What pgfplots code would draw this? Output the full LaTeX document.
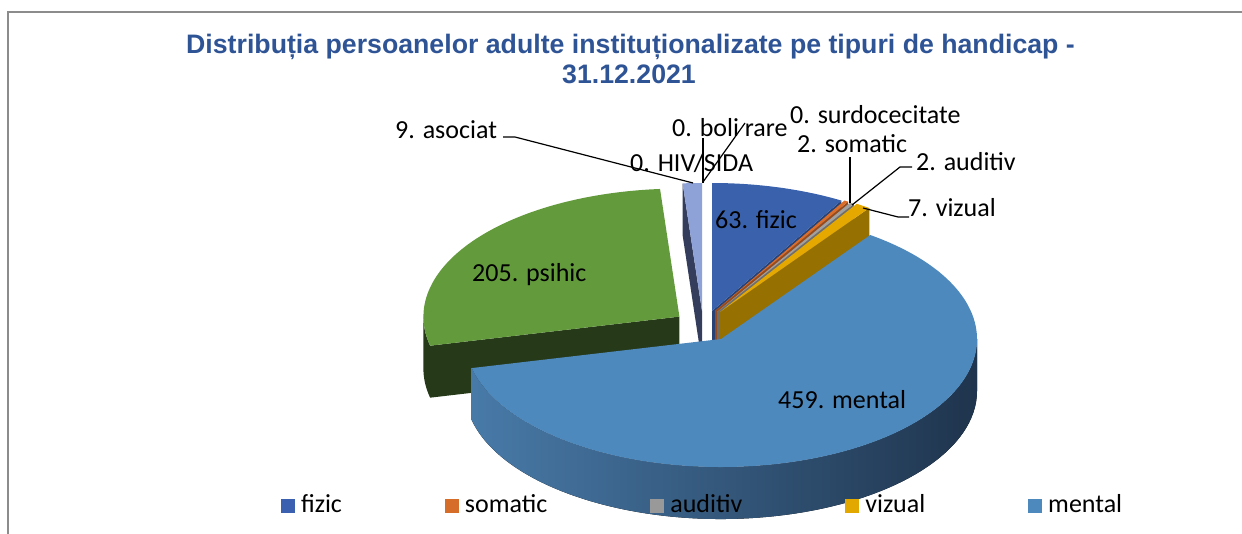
\documentclass[border=0pt]{standalone}
\usepackage{fontspec}
\setmainfont{Carlito}
\newfontfamily\titlefont{Liberation Sans}
\usepackage{pgfplots}
\usepackage{pgfplotstable}
\pgfplotsset{compat=1.18}

\definecolor{titleblue}{RGB}{47,84,150}
\definecolor{framegray}{RGB}{140,140,140}
\definecolor{fizicT}{RGB}{58,98,172}
\definecolor{fizicS}{RGB}{40,66,118}
\definecolor{somaticT}{RGB}{217,109,41}
\definecolor{somaticS}{RGB}{150,75,28}
\definecolor{auditivT}{RGB}{160,160,160}
\definecolor{auditivS}{RGB}{110,110,110}
\definecolor{vizualT}{RGB}{228,168,0}
\definecolor{vizualS}{RGB}{150,112,0}
\definecolor{mentalT}{RGB}{78,137,190}
\definecolor{mentalSL}{RGB}{72,122,168}
\definecolor{mentalSM}{RGB}{48,82,117}
\definecolor{mentalSR}{RGB}{31,52,77}
\definecolor{psihicT}{RGB}{99,154,60}
\definecolor{psihicS}{RGB}{38,58,25}
\definecolor{asociatT}{RGB}{142,162,216}
\definecolor{asociatS}{RGB}{52,62,92}
\definecolor{legfizic}{RGB}{58,96,175}
\definecolor{legsomatic}{RGB}{214,110,42}
\definecolor{legauditiv}{RGB}{153,153,153}
\definecolor{legvizual}{RGB}{227,168,0}
\definecolor{legmental}{RGB}{78,137,190}

% values of the chart; apx/apy = position of the (exploded) slice apex, in pixels
\pgfplotstableread{
name value apx apy
fizic 63 712 311
somatic 2 715 311
auditiv 2 717 312
vizual 7 720 312
mental 459 721 339
psihic 205 679.4 316.6
asociat 9 702 311
HIV/SIDA 0 703 311
boli_rare 0 703 311
surdocecitate 0 703 311
}\piedata

\def\RX{256}
\def\RY{128}
\def\D{52}

\newcommand\phiS[1]{\csname PS#1\endcsname}
\newcommand\phiE[1]{\csname PE#1\endcsname}
\newcommand\apx[1]{\csname AX#1\endcsname}
\newcommand\apy[1]{\csname AY#1\endcsname}
\newcommand\sx[1]{\csname SX#1\endcsname}
\newcommand\sy[1]{\csname SY#1\endcsname}
\newcommand\ex[1]{\csname EX#1\endcsname}
\newcommand\ey[1]{\csname EY#1\endcsname}

% top face of slice #1
\newcommand\topface[2]{%
  \fill[#2] (axis cs:\apx{#1},\apy{#1}) -- (axis cs:\sx{#1},\sy{#1})
    arc[start angle={90-\phiS{#1}}, end angle={90-\phiE{#1}}, x radius=\RX bp, y radius=\RY bp] -- cycle;}
% outer curved side from angle #3 to #4, starting at point (#1,#2)
\newcommand\outerside[5]{%
  \fill[#5] (axis cs:#1,#2)
    arc[start angle={90-(#3)}, end angle={90-(#4)}, x radius=\RX bp, y radius=\RY bp]
    -- ++(0bp,-\D bp)
    arc[start angle={90-(#4)}, end angle={90-(#3)}, x radius=\RX bp, y radius=\RY bp] -- cycle;}
% radial cut face from apex (#1,#2) to rim (#3,#4)
\newcommand\radface[5]{%
  \fill[#5] (axis cs:#1,#2) -- (axis cs:#3,#4) -- ++(0bp,-\D bp) -- ([yshift=-\D bp]axis cs:#1,#2) -- cycle;}

\newcommand\lbl{\fontsize{26bp}{30bp}\selectfont}

\begin{document}
\begin{tikzpicture}
\xdef\total{0}
\foreach \i in {0,...,9}{%
  \pgfplotstablegetelem{\i}{value}\of\piedata
  \pgfmathsetmacro\tmpT{\total+\pgfplotsretval}%
  \xdef\total{\tmpT}}
\xdef\cum{0}
\foreach \i in {0,...,9}{%
  \pgfplotstablegetelem{\i}{apx}\of\piedata
  \expandafter\xdef\csname AX\i\endcsname{\pgfplotsretval}%
  \pgfplotstablegetelem{\i}{apy}\of\piedata
  \expandafter\xdef\csname AY\i\endcsname{\pgfplotsretval}%
  \pgfplotstablegetelem{\i}{value}\of\piedata
  \pgfmathsetmacro\tmpA{\cum/\total*360}%
  \pgfmathsetmacro\tmpC{\cum+\pgfplotsretval}%
  \xdef\cum{\tmpC}%
  \pgfmathsetmacro\tmpB{\cum/\total*360}%
  \expandafter\xdef\csname PS\i\endcsname{\tmpA}%
  \expandafter\xdef\csname PE\i\endcsname{\tmpB}%
  \pgfmathsetmacro\tmpX{\apx{\i}+\RX*sin(\tmpA)}%
  \pgfmathsetmacro\tmpY{\apy{\i}-\RY*cos(\tmpA)}%
  \expandafter\xdef\csname SX\i\endcsname{\tmpX}%
  \expandafter\xdef\csname SY\i\endcsname{\tmpY}%
  \pgfmathsetmacro\tmpX{\apx{\i}+\RX*sin(\tmpB)}%
  \pgfmathsetmacro\tmpY{\apy{\i}-\RY*cos(\tmpB)}%
  \expandafter\xdef\csname EX\i\endcsname{\tmpX}%
  \expandafter\xdef\csname EY\i\endcsname{\tmpY}%
}
\pgfmathsetmacro\tmpM{\apx{4}+\RX}\xdef\mentalRX{\tmpM}

\begin{axis}[
  scale only axis, width=1242bp, height=534bp,
  xmin=0, xmax=1242, ymin=0, ymax=534, y dir=reverse,
  axis lines=none,
  legend columns=5,
  legend cell align=left,
  legend image code/.code={\fill[#1] (0bp,-8.8bp) rectangle (14bp,5.7bp); \path (20bp,0bp);},
  legend style={at={(axis cs:281,514)}, anchor=south west, draw=none, fill=none,
    inner sep=0pt, outer sep=0pt, font=\lbl, nodes={inner sep=0pt},
    /tikz/every even column/.append style={column sep=103bp}},
]
\path (axis cs:0,0) rectangle (axis cs:1242,534);
% frame (left and top edges)
\draw[framegray, line width=1.3bp] (axis cs:8,534) -- (axis cs:8,12) -- (axis cs:1242,12);

% psihic (back left)
\radface{\apx{5}}{\apy{5}}{\sx{5}}{\sy{5}}{psihicS}
\outerside{\sx{5}}{\sy{5}}{\phiS{5}}{270}{psihicS}
\topface{5}{psihicT}
% asociat
\radface{\apx{6}}{\apy{6}}{\sx{6}}{\sy{6}}{asociatS}
\topface{6}{asociatT}
% fizic
\radface{\apx{0}}{\apy{0}}{\ex{0}}{\ey{0}}{fizicS}
\topface{0}{fizicT}
% somatic
\radface{\apx{1}}{\apy{1}}{\ex{1}}{\ey{1}}{somaticS}
\topface{1}{somaticT}
% auditiv
\radface{\apx{2}}{\apy{2}}{\ex{2}}{\ey{2}}{auditivS}
\topface{2}{auditivT}
% vizual
\radface{\apx{3}}{\apy{3}}{\ex{3}}{\ey{3}}{vizualS}
\topface{3}{vizualT}
% mental (front)
\outerside{\mentalRX}{\apy{4}}{90}{\phiE{4}}{left color=mentalSL, middle color=mentalSM, right color=mentalSR}
\topface{4}{mentalT}

% title
\node[anchor=base, inner sep=0pt, text=titleblue, font=\titlefont\bfseries\fontsize{26.7bp}{30bp}\selectfont]
  at (axis cs:630.5,54) {Distribuția persoanelor adulte instituționalizate pe tipuri de handicap -};
\node[anchor=base, inner sep=0pt, text=titleblue, font=\titlefont\bfseries\fontsize{26.7bp}{30bp}\selectfont]
  at (axis cs:629,84) {31.12.2021};

% leader lines
\draw[black, line width=1.2bp] (axis cs:503,137) -- (axis cs:515,137) -- (axis cs:693,183);
\draw[black, line width=1.2bp] (axis cs:703,138) -- (axis cs:703,183);
\draw[black, line width=1.2bp] (axis cs:703,182) -- (axis cs:745,123);
\draw[black, line width=1.2bp] (axis cs:850,157) -- (axis cs:850,203);
\draw[black, line width=1.2bp] (axis cs:912,167) -- (axis cs:900,167) -- (axis cs:852,205);
\draw[black, line width=1.2bp] (axis cs:909,217) -- (axis cs:898,217) -- (axis cs:863,208);

% data labels
\node[anchor=base west, inner sep=0pt, font=\lbl] at (axis cs:395,138) {9. asociat};
\node[anchor=base west, inner sep=0pt, font=\lbl] at (axis cs:630,171) {0. HIV/SIDA};
\node[anchor=base west, inner sep=0pt, font=\lbl] at (axis cs:672,136) {0. boli rare};
\node[anchor=base west, inner sep=0pt, font=\lbl] at (axis cs:790,123) {0. surdocecitate};
\node[anchor=base west, inner sep=0pt, font=\lbl] at (axis cs:797,152) {2. somatic};
\node[anchor=base west, inner sep=0pt, font=\lbl] at (axis cs:916,170) {2. auditiv};
\node[anchor=base west, inner sep=0pt, font=\lbl] at (axis cs:908,216) {7. vizual};
\node[anchor=base west, inner sep=0pt, font=\lbl] at (axis cs:715,228) {63. fizic};
\node[anchor=base west, inner sep=0pt, font=\lbl] at (axis cs:472,281) {205. psihic};
\node[anchor=base west, inner sep=0pt, font=\lbl] at (axis cs:778,408) {459. mental};

\addlegendimage{fill=legfizic, draw=none}
\addlegendentry{fizic}
\addlegendimage{fill=legsomatic, draw=none}
\addlegendentry{somatic}
\addlegendimage{fill=legauditiv, draw=none}
\addlegendentry{auditiv}
\addlegendimage{fill=legvizual, draw=none}
\addlegendentry{vizual}
\addlegendimage{fill=legmental, draw=none}
\addlegendentry{mental}
\end{axis}
\end{tikzpicture}
\end{document}
